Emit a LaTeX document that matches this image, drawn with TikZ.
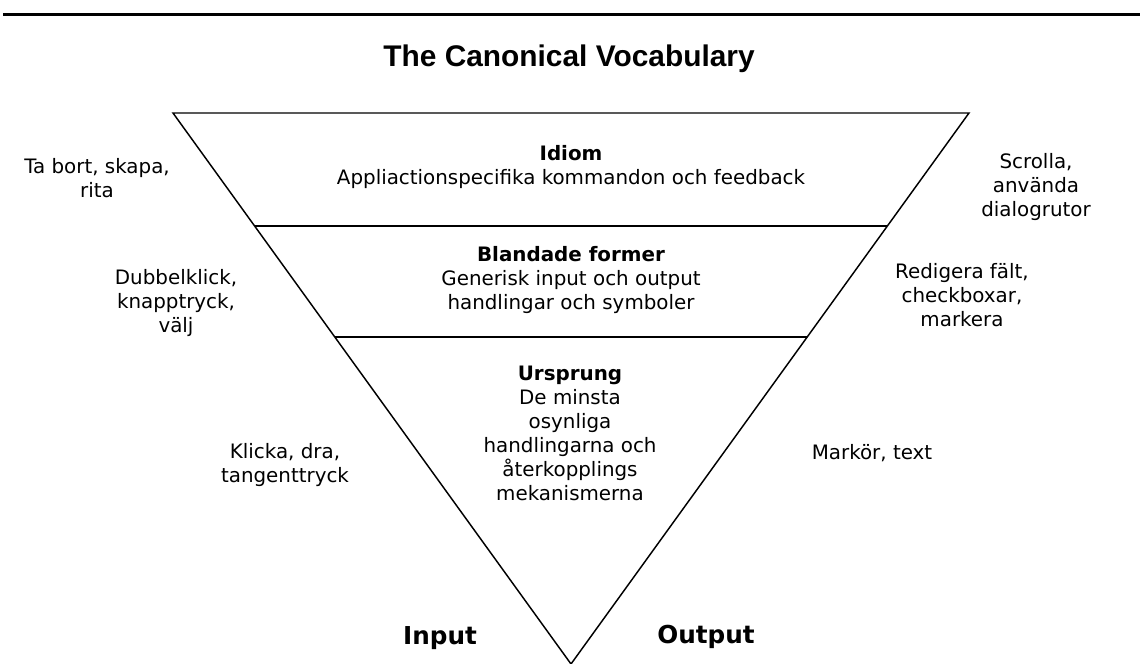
\documentclass[tikz,border=0pt]{standalone}
\usepackage{fontspec}
\setmainfont{DejaVu Sans}
\newfontfamily\titlefont{Liberation Sans}
\begin{document}
\begin{tikzpicture}[x=0.75pt,y=-0.75pt,
  lbl/.style={inner sep=0pt,align=center,font=\fontsize{14.9}{18}\selectfont},
  io/.style={inner sep=0pt,font=\fontsize{18.5}{22}\selectfont\bfseries},
  edge/.style={line width=1.1pt,line join=miter}]
\useasboundingbox (0,0) rectangle (1140,664);
% top rule
\coordinate (ruleL) at (3,14.5);
\coordinate (ruleR) at (1140,14.5);
\draw[line width=1.9pt] (ruleL) -- (ruleR);
% title
\node[inner sep=0pt,font=\titlefont\fontsize{22.4}{26}\selectfont\bfseries] (title) at (569,59) {The Canonical Vocabulary};
% triangle
\coordinate (tl) at (173,113);
\coordinate (tr) at (969,113);
\coordinate (bt) at (571,664);
\coordinate (l1) at (254.6,226);
\coordinate (r1) at (887.4,226);
\coordinate (l2) at (334.8,337);
\coordinate (r2) at (807.2,337);
\draw[edge] (tl) -- (tr) -- (bt) -- cycle;
\draw[edge] (l1) -- (r1);
\draw[edge] (l2) -- (r2);
% layer texts
\node[lbl] (idiom) at (571,167) {\textbf{Idiom}\\Appliactionspecifika kommandon och feedback};
\node[lbl] (bland) at (571,280) {\textbf{Blandade former}\\Generisk input och output\\handlingar och symboler};
\node[lbl] (urs) at (570,433) {\textbf{Ursprung}\\De minsta\\osynliga\\handlingarna och\\återkopplings\\mekanismerna};
% left labels
\node[lbl] (ta) at (97,178) {Ta bort, skapa,\\rita};
\node[lbl] (dub) at (176,303) {Dubbelklick,\\knapptryck,\\välj};
\node[lbl] (kli) at (285,465) {Klicka, dra,\\tangenttryck};
% right labels
\node[lbl] (scr) at (1036,187) {Scrolla,\\använda\\dialogrutor};
\node[lbl] (red) at (962,295) {Redigera fält,\\checkboxar,\\markera};
\node[lbl] (mar) at (872,453) {Markör, text};
% input / output
\node[io] (in) at (440,638) {Input};
\node[io] (out) at (706,637) {Output};
\end{tikzpicture}
\end{document}
